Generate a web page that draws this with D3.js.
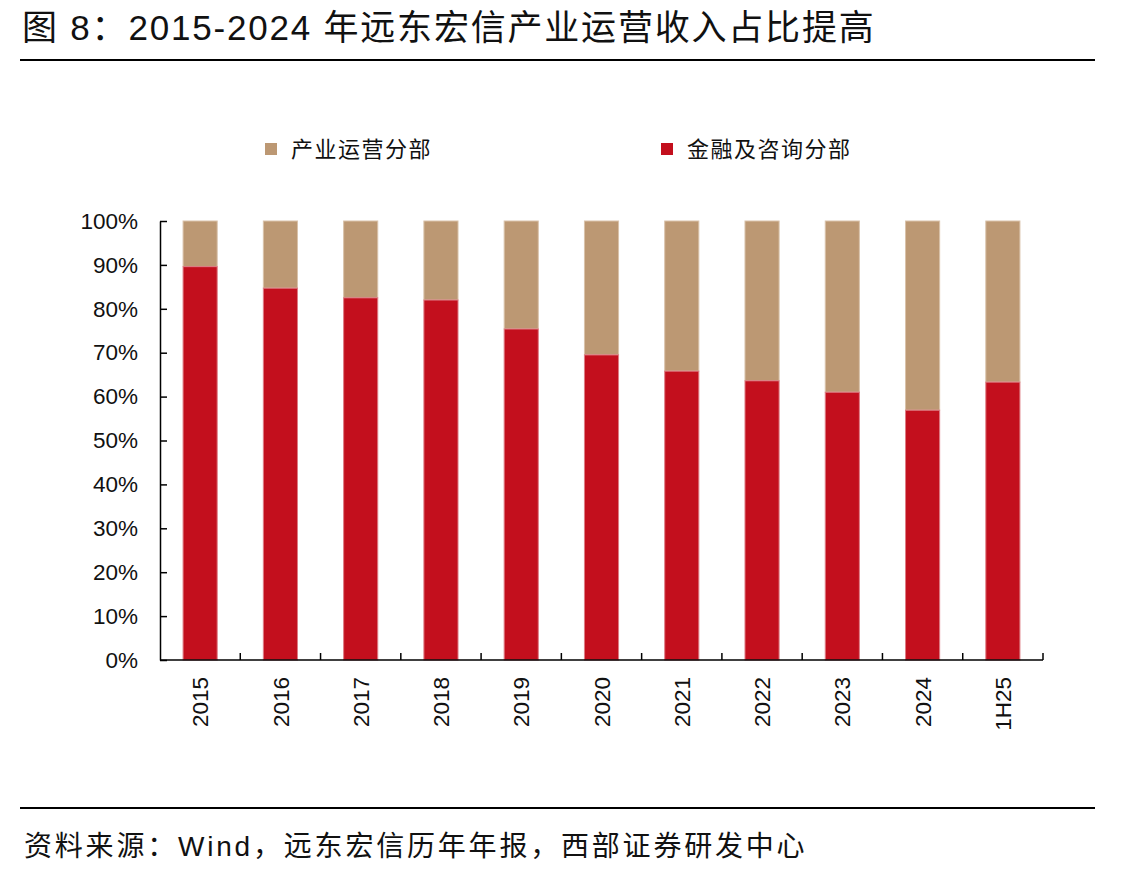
<!DOCTYPE html>
<html>
  <head>
    <meta charset="utf-8" />
    <script src="https://d3js.org/d3.v7.min.js"></script>
    <style>
      body { margin: 0; background: #fff; }
      text { font-family: "Liberation Sans", Arial, "Noto Sans CJK SC", sans-serif; }
      .cjk { font-family: "Liberation Sans", "Noto Sans CJK SC", sans-serif; }
    </style>
  </head>
  <body>
    <svg id="viz"></svg>
    <script>
      var categories = ["2015", "2016", "2017", "2018", "2019", "2020", "2021", "2022", "2023", "2024", "1H25"];
      // 金融及咨询分部 share (%), rest is 产业运营分部
      var finance = [89.6, 84.7, 82.5, 82.0, 75.4, 69.5, 65.8, 63.6, 61.0, 56.9, 63.3];
      var yTicks = [0, 10, 20, 30, 40, 50, 60, 70, 80, 90, 100];
      var seriesNames = ["产业运营分部", "金融及咨询分部"];
      var colors = ["#bc9873", "#c30f1d"];
      var edgeColors = ["#d9c2aa", "#de7c84"];

      var width = 1144, height = 875;
      var svg = d3.select("#viz").attr("width", width).attr("height", height);

      // title + rules
      svg.append("text")
        .attr("class", "cjk")
        .attr("x", 22).attr("y", 40)
        .attr("font-size", 35)
        .attr("letter-spacing", 1.8)
        .attr("fill", "#111")
        .text("图 8：2015-2024 年远东宏信产业运营收入占比提高");

      svg.append("line").attr("x1", 20).attr("x2", 1095).attr("y1", 60).attr("y2", 60)
        .attr("stroke", "#000").attr("stroke-width", 2);
      svg.append("line").attr("x1", 20).attr("x2", 1095).attr("y1", 808).attr("y2", 808)
        .attr("stroke", "#000").attr("stroke-width", 2);

      svg.append("text")
        .attr("class", "cjk")
        .attr("x", 24).attr("y", 856)
        .attr("font-size", 28)
        .attr("letter-spacing", 2.8)
        .attr("fill", "#111")
        .text("资料来源：Wind，远东宏信历年年报，西部证券研发中心");

      var x = d3.scaleBand()
        .domain(categories)
        .range([160, 1043])
        .paddingInner(0.575)
        .paddingOuter(0.2875);

      var y = d3.scaleLinear().domain([0, 100]).range([660, 221]);

      // bars
      var rows = categories.map(function(c, i) {
        return { cat: c, fin: finance[i] };
      });

      var g = svg.append("g");
      g.selectAll("rect.ops").data(rows).enter().append("rect")
        .attr("class", "ops")
        .attr("x", function(d) { return x(d.cat); })
        .attr("width", x.bandwidth())
        .attr("y", y(100))
        .attr("height", function(d) { return y(d.fin) - y(100); })
        .attr("fill", colors[0])
        .attr("stroke", edgeColors[0]).attr("stroke-width", 1);

      g.selectAll("rect.fin").data(rows).enter().append("rect")
        .attr("class", "fin")
        .attr("x", function(d) { return x(d.cat); })
        .attr("width", x.bandwidth())
        .attr("y", function(d) { return y(d.fin); })
        .attr("height", function(d) { return y(0) - y(d.fin); })
        .attr("fill", colors[1])
        .attr("stroke", edgeColors[1]).attr("stroke-width", 1);

      // y axis
      var yAxis = d3.axisLeft(y)
        .tickValues(yTicks)
        .tickFormat(function(d) { return d + "%"; })
        .tickSizeInner(-7)
        .tickSizeOuter(0)
        .tickPadding(22);

      var ya = svg.append("g").attr("transform", "translate(160,0)").call(yAxis);
      ya.selectAll("line, path").attr("stroke", "#000").attr("stroke-width", 1.5);
      ya.selectAll("text").attr("font-size", 22.5).attr("fill", "#111")
        .attr("font-family", "Liberation Sans, Arial, sans-serif");

      // x axis baseline + ticks between categories
      var xa = svg.append("g");
      xa.append("line").attr("x1", 160).attr("x2", 1043).attr("y1", y(0)).attr("y2", y(0))
        .attr("stroke", "#000").attr("stroke-width", 1.5);
      var bounds = d3.range(1, categories.length + 1).map(function(i) {
        return x.range()[0] + i * x.step();
      });
      xa.selectAll("line.tk").data(bounds).enter().append("line")
        .attr("class", "tk")
        .attr("x1", function(d) { return d; }).attr("x2", function(d) { return d; })
        .attr("y1", y(0)).attr("y2", y(0) - 7)
        .attr("stroke", "#000").attr("stroke-width", 1.5);

      xa.selectAll("text.xl").data(categories).enter().append("text")
        .attr("class", "xl")
        .attr("transform", function(d) {
          return "translate(" + (x(d) + x.bandwidth() / 2) + "," + (y(0) + 17) + ") rotate(-90)";
        })
        .attr("text-anchor", "end")
        .attr("dy", "0.36em")
        .attr("font-size", 22.5)
        .attr("fill", "#111")
        .text(function(d) { return d; });

      // legend
      var legendX = [265, 661];
      var lg = svg.append("g");
      seriesNames.forEach(function(name, i) {
        lg.append("rect")
          .attr("x", legendX[i]).attr("y", 143)
          .attr("width", 12).attr("height", 12)
          .attr("fill", colors[i]);
        lg.append("text")
          .attr("class", "cjk")
          .attr("x", legendX[i] + 26).attr("y", 157)
          .attr("font-size", 22)
          .attr("letter-spacing", 1.5)
          .attr("fill", "#111")
          .text(name);
      });
    </script>
  </body>
</html>
